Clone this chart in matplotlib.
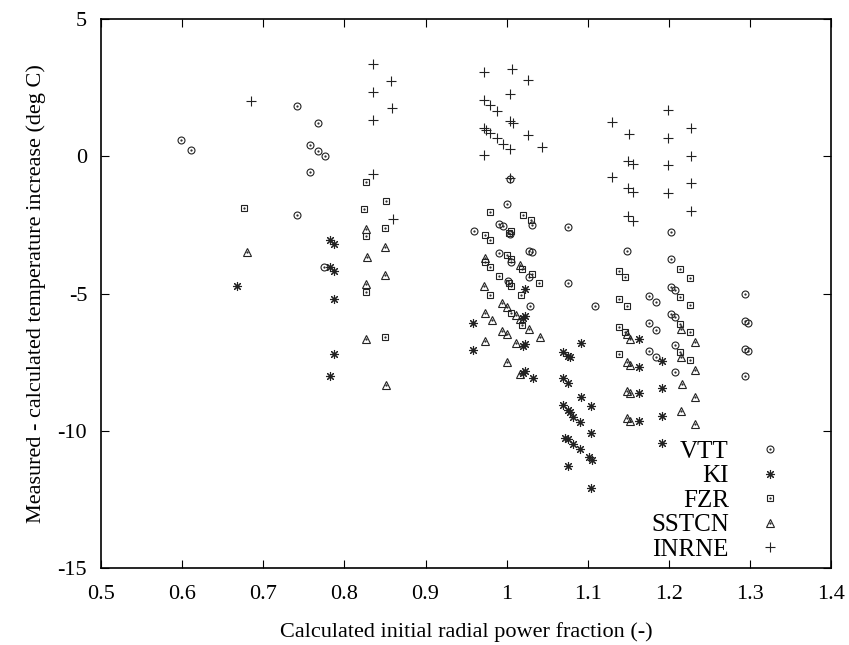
import matplotlib
matplotlib.use("Agg")
import matplotlib.pyplot as plt
from matplotlib.legend_handler import HandlerTuple

plt.rcParams['font.family'] = ['Liberation Serif', 'DejaVu Serif']
plt.rcParams['axes.unicode_minus'] = False

# values
vtt_x = [0.598, 0.611, 0.742, 0.767, 0.758, 0.768, 0.776, 0.758, 0.742, 0.775,
         1.004, 1.000, 0.960, 0.991, 0.996, 1.004, 1.031, 1.028, 1.031, 0.991, 1.005, 1.028, 1.002, 1.029,
         1.075, 1.075, 1.109, 1.148, 1.175, 1.184, 1.175, 1.184, 1.175, 1.184,
         1.203, 1.203, 1.203, 1.207, 1.203, 1.207, 1.207, 1.207,
         1.294, 1.294, 1.298, 1.294, 1.298, 1.294]
vtt_y = [0.59, 0.24, 1.84, 1.20, 0.43, 0.18, 0.00, -0.56, -2.14, -4.03,
         -0.84, -1.74, -2.72, -2.48, -2.55, -2.84, -2.52, -3.45, -3.50, -3.51, -3.84, -4.41, -4.55, -5.46,
         -2.59, -4.61, -5.44, -3.45, -5.08, -5.32, -6.09, -6.33, -7.08, -7.30,
         -2.75, -3.74, -4.75, -4.87, -5.75, -5.87, -6.86, -7.87,
         -5.02, -6.01, -6.09, -7.02, -7.09, -8.01]

ki_x = [0.668, 0.782, 0.787, 0.782, 0.787, 0.787, 0.787, 0.782,
        0.958, 0.958, 1.023, 1.023, 1.020, 1.023, 1.020, 1.023, 1.020, 1.032,
        1.092, 1.069, 1.075, 1.078, 1.069, 1.075, 1.092, 1.104, 1.069, 1.075, 1.078, 1.082, 1.091,
        1.104, 1.072, 1.075, 1.082, 1.091, 1.101, 1.105, 1.075, 1.104,
        1.163, 1.163, 1.163, 1.163, 1.192, 1.192, 1.192, 1.192]
ki_y = [-4.71, -3.05, -3.21, -4.03, -4.18, -5.19, -7.19, -8.02,
        -6.06, -7.06, -4.85, -5.82, -5.88, -6.84, -6.90, -7.82, -7.88, -8.09,
        -6.79, -7.12, -7.28, -7.33, -8.09, -8.25, -8.78, -9.10, -9.06, -9.24, -9.31, -9.49, -9.67,
        -10.09, -10.25, -10.31, -10.48, -10.68, -10.97, -11.07, -11.28, -12.10,
        -6.67, -7.67, -8.61, -9.65, -7.45, -8.45, -9.45, -10.43]

fzr_x = [0.676, 0.826, 0.851, 0.824, 0.850, 0.826, 0.826, 0.850,
         0.980, 1.020, 1.030, 1.005, 1.003, 0.973, 0.980, 1.001, 1.005, 0.973, 0.980, 1.019,
         1.031, 1.040, 0.991, 1.003, 1.005, 0.980, 1.018, 1.005, 1.019,
         1.139, 1.146, 1.139, 1.148, 1.139, 1.146, 1.139,
         1.214, 1.226, 1.214, 1.226, 1.214, 1.226, 1.214, 1.226]
fzr_y = [-1.90, -0.94, -1.61, -1.92, -2.60, -2.91, -4.96, -6.58,
         -2.04, -2.14, -2.32, -2.72, -2.78, -2.87, -3.05, -3.60, -3.74, -3.86, -4.05, -4.12,
         -4.30, -4.63, -4.35, -4.60, -4.72, -5.05, -5.05, -5.70, -6.15,
         -4.17, -4.41, -5.20, -5.46, -6.21, -6.39, -7.20,
         -4.12, -4.42, -5.14, -5.42, -6.11, -6.41, -7.12, -7.42]

sstcn_x = [0.680, 0.826, 0.850, 0.828, 0.850, 0.827, 0.827, 0.851,
           0.973, 1.017, 0.972, 0.994, 1.001, 1.011, 1.017, 1.028, 1.041, 0.973, 0.982, 0.994,
           1.001, 0.973, 1.011, 1.000, 1.017,
           1.148, 1.152, 1.148, 1.152, 1.148, 1.152, 1.148, 1.152,
           1.215, 1.232, 1.215, 1.232, 1.216, 1.232, 1.215, 1.232]
sstcn_y = [-3.49, -2.66, -3.31, -3.66, -4.31, -4.67, -6.65, -8.33,
           -3.72, -3.96, -4.73, -5.33, -5.50, -5.80, -5.94, -6.28, -6.58, -5.72, -5.97, -6.36,
           -6.49, -6.72, -6.79, -7.51, -7.94,
           -6.48, -6.67, -7.48, -7.60, -8.54, -8.64, -9.55, -9.65,
           -6.30, -6.78, -7.30, -7.79, -8.30, -8.78, -9.28, -9.77]

inrne_x = [0.685, 0.835, 0.858, 0.835, 0.859, 0.835, 0.835, 0.860,
           0.972, 1.007, 1.026, 1.004, 0.972, 0.979, 0.988, 1.004, 1.008, 0.972, 0.975, 0.980,
           0.988, 1.026, 0.996, 1.004, 1.044, 0.972, 1.004,
           1.130, 1.151, 1.149, 1.156, 1.130, 1.149, 1.156, 1.149, 1.156,
           1.199, 1.199, 1.199, 1.199, 1.227, 1.227, 1.227, 1.227]
inrne_y = [2.00, 3.36, 2.74, 2.33, 1.76, 1.33, -0.65, -2.29,
           3.06, 3.19, 2.77, 2.26, 2.05, 1.88, 1.66, 1.27, 1.20, 1.04, 0.96, 0.84,
           0.68, 0.77, 0.46, 0.26, 0.33, 0.05, -0.78,
           1.26, 0.81, -0.17, -0.29, -0.74, -1.17, -1.31, -2.18, -2.35,
           1.68, 0.68, -0.32, -1.33, 1.02, 0.02, -0.97, -1.98]

# name, x, y, marker, size, centre dot (gnuplot style)
series = [('VTT', vtt_x, vtt_y, 'o', 5, True),
          ('KI', ki_x, ki_y, (8, 2, 0), 6.5, False),
          ('FZR', fzr_x, fzr_y, 's', 4.8, True),
          ('SSTCN', sstcn_x, sstcn_y, '^', 6, True),
          ('INRNE', inrne_x, inrne_y, '+', 6.5, False)]

fig = plt.figure(figsize=(8.49, 6.45), dpi=100)
ax = fig.add_axes([0.119, 0.1194, 0.860, 0.851])

handles = []
labels = []
for name, xs, ys, mk, ms, dot in series:
    l1, = ax.plot(xs, ys, linestyle='none', marker=mk, markersize=ms,
                  markerfacecolor='none', markeredgecolor='#222222', markeredgewidth=0.8)
    h = l1
    if dot:
        l2, = ax.plot(xs, ys, linestyle='none', marker='.', markersize=1.2, color='#222222')
        h = (l1, l2)
    handles.append(h)
    labels.append(name)

ax.set_xlim(0.5, 1.4)
ax.set_ylim(-15, 5)
ax.set_xticks([0.5, 0.6, 0.7, 0.8, 0.9, 1.0, 1.1, 1.2, 1.3, 1.4])
ax.set_xticklabels(['0.5', '0.6', '0.7', '0.8', '0.9', '1', '1.1', '1.2', '1.3', '1.4'])
ax.set_yticks([5, 0, -5, -10, -15])
ax.tick_params(direction='in', top=True, right=True, length=6, labelsize=16)
ax.tick_params(axis='x', pad=12)
ax.tick_params(axis='y', pad=10)
for s in ax.spines.values():
    s.set_linewidth(1.2)

ax.set_xlabel('Calculated initial radial power fraction (-)', fontsize=16, labelpad=13)
ax.set_ylabel('Measured - calculated temperature increase (deg C)', fontsize=16, labelpad=8)

ax.legend(handles, labels, handler_map={tuple: HandlerTuple(ndivide=1)},
          loc='lower right', bbox_to_anchor=(0.942, 0.013), frameon=False,
          markerfirst=False, fontsize=18, handlelength=1.5, handletextpad=0.9,
          labelspacing=0.08, borderpad=0, borderaxespad=0)

fig.savefig('out.png', dpi=100)
